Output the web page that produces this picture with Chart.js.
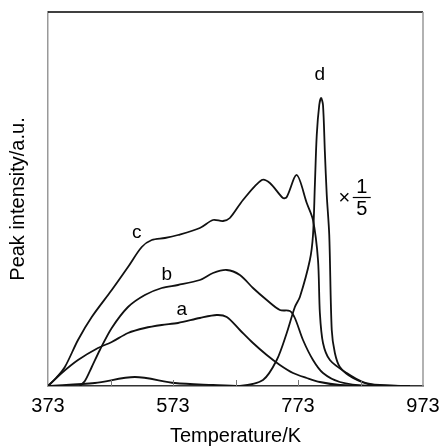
<!DOCTYPE html>
<html>
<head>
<meta charset="utf-8">
<script src="https://cdn.jsdelivr.net/npm/chart.js@4"></script>
<style>
  html, body { margin: 0; padding: 0; background: #fff; }
  #wrap { width: 444px; height: 448px; }
</style>
</head>
<body>
<div id="wrap"><canvas id="tprChart" width="444" height="448"></canvas></div>
<script>
// TPD profiles, temperature in K, intensity in a.u.
const tempA = [373, 395, 421, 453, 475, 501, 528, 555, 581, 616, 643, 659, 680, 701, 723, 744, 765, 787, 808, 840, 888, 952];
const valA  = [0, 13, 26, 38, 44, 53, 58, 61, 63, 68, 71, 69, 56, 43, 31, 21, 13, 8, 4, 1, 0, 0];

const tempB = [424, 432, 443, 456, 475, 501, 528, 555, 581, 616, 637, 659, 680, 701, 723, 744, 760, 768, 781, 797, 813, 840, 888, 952];
const valB  = [0, 5, 19, 36, 58, 79, 91, 98, 101, 106, 113, 116, 111, 98, 86, 76, 75, 68, 46, 26, 13, 4, 0, 0];

const tempC = [373, 386, 400, 421, 443, 475, 501, 523, 539, 560, 581, 616, 637, 653, 664, 685, 715, 728, 749, 755, 771, 787, 797, 805, 808, 813, 824, 851, 877, 904, 952];
const valC  = [0, 8, 19, 46, 69, 96, 119, 139, 146, 148, 151, 158, 166, 165, 168, 186, 206, 203, 188, 189, 211, 183, 166, 126, 73, 43, 26, 13, 4, 1, 0];

// curve d is plotted x 1/5
const tempD = [373, 448, 512, 576, 637, 680, 717, 739, 755, 768, 776, 792, 797, 800, 803, 807, 810, 813, 816, 819, 823, 827, 832, 840, 861, 893, 952];
const valD  = [0, 3, 9, 3, 1, 0, 6, 26, 53, 79, 89, 126, 151, 201, 251, 281, 288, 281, 234, 191, 151, 56, 33, 19, 8, 1, 0];

const xTicks = [373, 573, 773, 973];

const curveNames = ['a', 'b', 'c', 'd'];
const labelTemp = [587, 563, 515, 808];
const labelVal  = [76, 111, 153, 311];

function toPoints(t, v) {
    return t.map((x, i) => ({ x: x, y: v[i] }));
}

const FONT = '"Liberation Sans", Arial, sans-serif';

function lineSet(label, t, v) {
    return {
        label: label,
        data: toPoints(t, v),
        borderColor: '#111',
        borderWidth: 1.8,
        pointRadius: 0,
        fill: false,
        tension: 0.3
    };
}

// frame, inner ticks and curve labels
const decorations = {
    id: 'decorations',
    afterDraw(chart) {
        const ctx = chart.ctx;
        const a = chart.chartArea;
        const xs = chart.scales.x;
        const ys = chart.scales.y;
        ctx.save();
        // top border
        ctx.strokeStyle = '#000';
        ctx.lineWidth = 1.5;
        ctx.beginPath();
        ctx.moveTo(a.left, a.top);
        ctx.lineTo(a.right, a.top);
        ctx.stroke();
        // right border
        ctx.strokeStyle = '#999';
        ctx.lineWidth = 1.5;
        ctx.beginPath();
        ctx.moveTo(a.right, a.top);
        ctx.lineTo(a.right, a.bottom);
        ctx.stroke();
        // inward ticks every 100 K
        ctx.strokeStyle = '#777';
        ctx.lineWidth = 1;
        for (let t = 473; t < 973; t += 100) {
            const px = Math.round(xs.getPixelForValue(t)) + 0.5;
            ctx.beginPath();
            ctx.moveTo(px, a.bottom);
            ctx.lineTo(px, a.bottom - 6);
            ctx.stroke();
        }
        // curve labels
        ctx.fillStyle = '#000';
        ctx.font = '19px ' + FONT;
        ctx.textAlign = 'center';
        ctx.textBaseline = 'middle';
        curveNames.forEach((n, i) => {
            ctx.fillText(n, xs.getPixelForValue(labelTemp[i]), ys.getPixelForValue(labelVal[i]));
        });
        // "x 1/5" scale note
        ctx.font = '20px ' + FONT;
        ctx.fillText('\u00d7', xs.getPixelForValue(847), ys.getPixelForValue(188));
        ctx.fillText('1', xs.getPixelForValue(875), ys.getPixelForValue(199));
        ctx.fillText('5', xs.getPixelForValue(875), ys.getPixelForValue(177));
        const fx = xs.getPixelForValue(875);
        const fy = Math.round(ys.getPixelForValue(189)) + 0.5;
        ctx.strokeStyle = '#000';
        ctx.lineWidth = 1.2;
        ctx.beginPath();
        ctx.moveTo(fx - 9, fy);
        ctx.lineTo(fx + 9, fy);
        ctx.stroke();
        ctx.restore();
    }
};

new Chart(document.getElementById('tprChart'), {
    type: 'line',
    data: {
        datasets: [
            lineSet('a', tempA, valA),
            lineSet('b', tempB, valB),
            lineSet('c', tempC, valC),
            lineSet('d', tempD, valD)
        ]
    },
    options: {
        responsive: false,
        animation: false,
        layout: { padding: { left: 0, right: 21, top: 12, bottom: 0 } },
        plugins: {
            legend: { display: false },
            tooltip: { enabled: false }
        },
        scales: {
            x: {
                type: 'linear',
                min: 373,
                max: 973,
                afterBuildTicks: function(scale) {
                    scale.ticks = xTicks.map(v => ({ value: v }));
                },
                afterFit: function(scale) {
                    scale.height = 62;
                    scale.paddingLeft = 0;
                    scale.paddingRight = 0;
                },
                ticks: {
                    color: '#000',
                    padding: 8,
                    maxRotation: 0,
                    font: { family: FONT, size: 20 },
                    callback: function(value) {
                        return String(value);
                    }
                },
                grid: { display: false, drawTicks: false },
                border: { display: true, color: '#333', width: 1.5 },
                title: {
                    display: true,
                    text: 'Temperature/K',
                    color: '#000',
                    font: { family: FONT, size: 20 },
                    padding: { top: 0, bottom: 0 }
                }
            },
            y: {
                min: 0,
                max: 374,
                afterFit: function(scale) {
                    scale.width = 48;
                    scale.paddingTop = 0;
                    scale.paddingBottom = 0;
                },
                ticks: { display: false },
                grid: { display: false, drawTicks: false },
                border: { display: true, color: '#999', width: 1.5 },
                title: {
                    display: true,
                    text: 'Peak intensity/a.u.',
                    color: '#000',
                    font: { family: FONT, size: 20 },
                    padding: { top: 6, bottom: 0 }
                }
            }
        }
    },
    plugins: [decorations]
});
</script>
</body>
</html>
